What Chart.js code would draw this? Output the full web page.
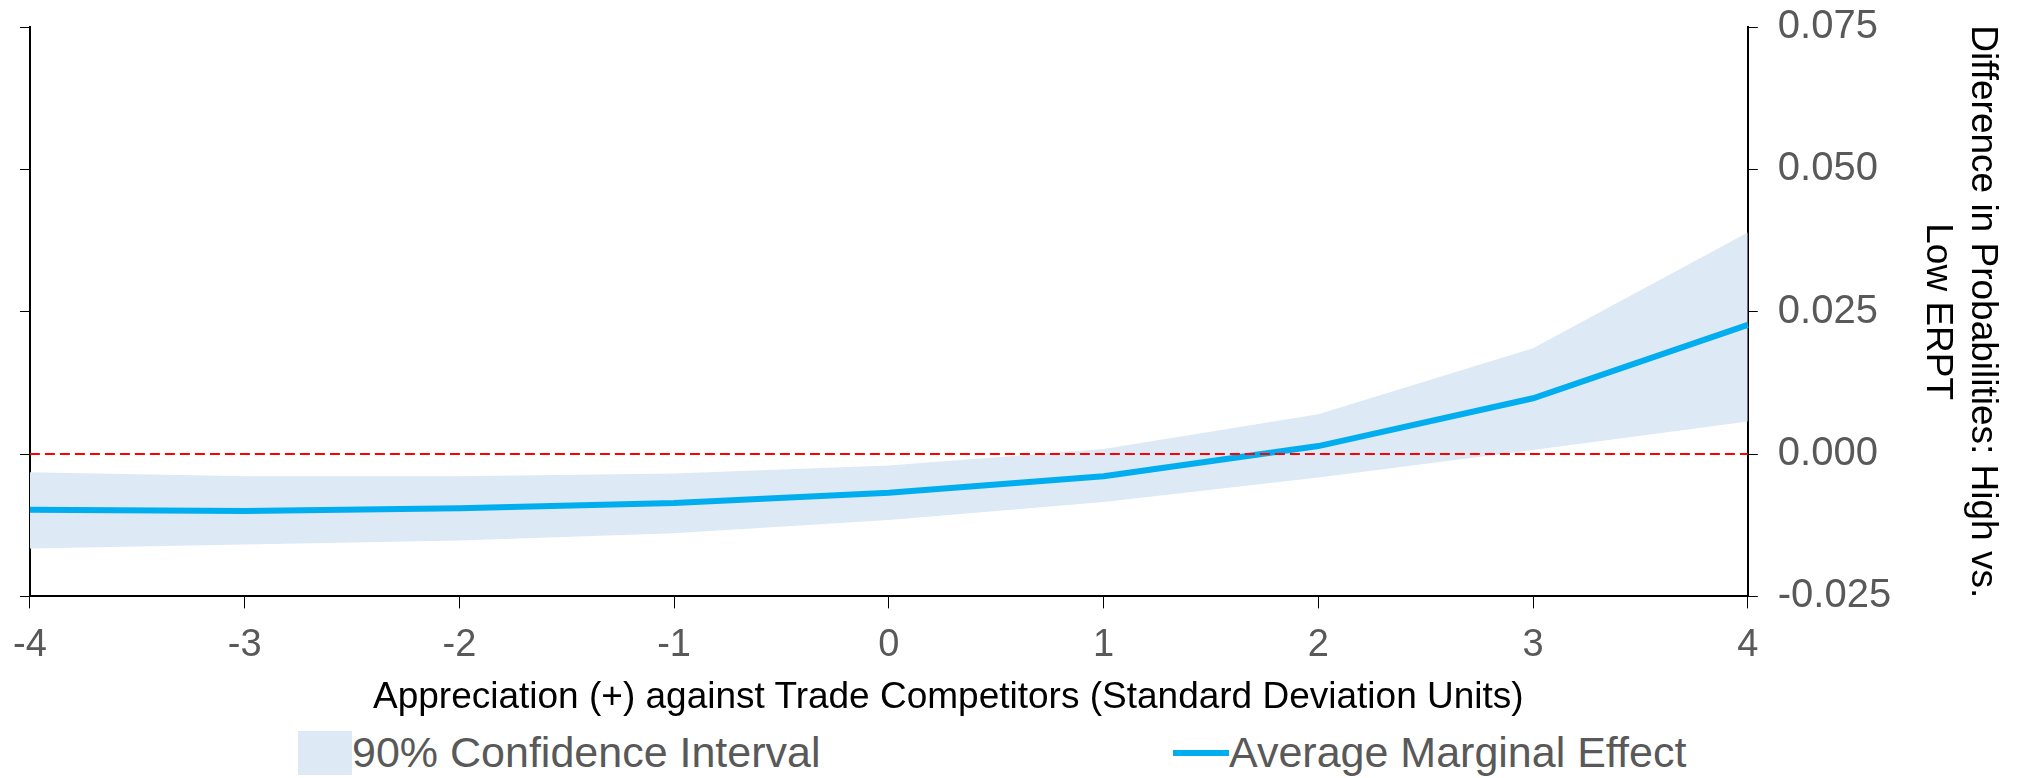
<!DOCTYPE html>
<html><head><meta charset="utf-8">
<script src="https://cdn.jsdelivr.net/npm/chart.js@4"></script>
<style>
body{margin:0;background:#fff;font-family:"Liberation Sans",Arial,sans-serif;overflow:hidden}
#wrap{position:relative;width:2027px;height:778px;overflow:hidden}
#c{position:absolute;top:-17px;left:-1px}
#xtitulo{position:absolute;top:675px;left:373px;font-size:37px;color:#000;white-space:nowrap}
#legend{position:absolute;top:728px;left:0;width:2027px;height:50px;font-size:43px;color:#595959}
.item{position:absolute;top:0;display:flex;align-items:center}
</style></head><body>
<div id="wrap">
<canvas id="c" width="2037" height="703" style="width:2037px;height:703px"></canvas>
<div id="xtitulo">Appreciation (+) against Trade Competitors (Standard Deviation Units)</div>
<div id="legend">
 <div class="item" style="left:298px"><span style="display:inline-block;width:54px;height:44px;background:#dde9f5"></span>90% Confidence Interval</div>
 <div class="item" style="left:1173px"><span style="display:inline-block;width:56px;height:6px;background:#00aeef"></span>Average Marginal Effect</div>
</div>
</div>
<script>
const etiquetas = [-4, -3, -2, -1, 0, 1, 2, 3, 4]
const efecto = [-0.0098, -0.0100, -0.0095, -0.0086, -0.0068, -0.0039, 0.0014, 0.0098, 0.0227]
const superior = [-0.0032, -0.0039, -0.0039, -0.0034, -0.0020, 0.0009, 0.0070, 0.0186, 0.0389]
const inferior = [-0.0166, -0.0159, -0.0152, -0.0139, -0.0116, -0.0084, -0.0041, 0.0007, 0.0057]
const cero = etiquetas.map(() => 0)
const ticksY = [-0.025, 0, 0.025, 0.05, 0.075]

const gris = '#595959'
new Chart(document.getElementById('c'), {
    type: 'line',
    data: {
        labels: etiquetas,
        datasets: [
            {data: inferior, yAxisID: 'y', borderWidth: 0, pointRadius: 0, fill: false},
            {data: superior, yAxisID: 'y', borderWidth: 0, pointRadius: 0, fill: '-1', backgroundColor: '#dde9f5'},
            {data: cero, yAxisID: 'y', borderColor: '#ff0000', borderWidth: 2, borderDash: [10, 5], pointRadius: 0, fill: false},
            {data: efecto, yAxisID: 'y', borderColor: '#00aeef', borderWidth: 6, pointRadius: 0, fill: false}
        ]
    },
    options: {
        responsive: false, animation: false,
        layout: {padding: {left: 0, top: 0, right: 10, bottom: 4}},
        plugins: {legend: {display: false}, tooltip: {enabled: false}, filler: {drawTime: 'beforeDatasetsDraw'}},
        scales: {
            x: {
                grid: {drawOnChartArea: false, color: '#000', tickLength: 12},
                border: {color: '#000', width: 2},
                ticks: {color: gris, font: {size: 38}, padding: 14, maxRotation: 0}
            },
            yl: {
                position: 'left', min: -0.025, max: 0.075,
                afterBuildTicks: a => { a.ticks = ticksY.map(v => ({value: v})) },
                grid: {drawOnChartArea: false, color: '#000', tickLength: 10},
                border: {color: '#000', width: 2},
                ticks: {display: false}
            },
            y: {
                position: 'right', min: -0.025, max: 0.075,
                afterBuildTicks: a => { a.ticks = ticksY.map(v => ({value: v})) },
                grid: {drawOnChartArea: false, color: '#000', tickLength: 10},
                border: {color: '#000', width: 2},
                ticks: {color: gris, font: {size: 40}, padding: 20, callback: v => v.toFixed(3)},
                title: {display: true, text: ['Difference in Probabilities: High vs.', 'Low ERPT'], color: '#000', font: {size: 37}, padding: {top: 22}}
            }
        }
    }
})
</script>
</body></html>
